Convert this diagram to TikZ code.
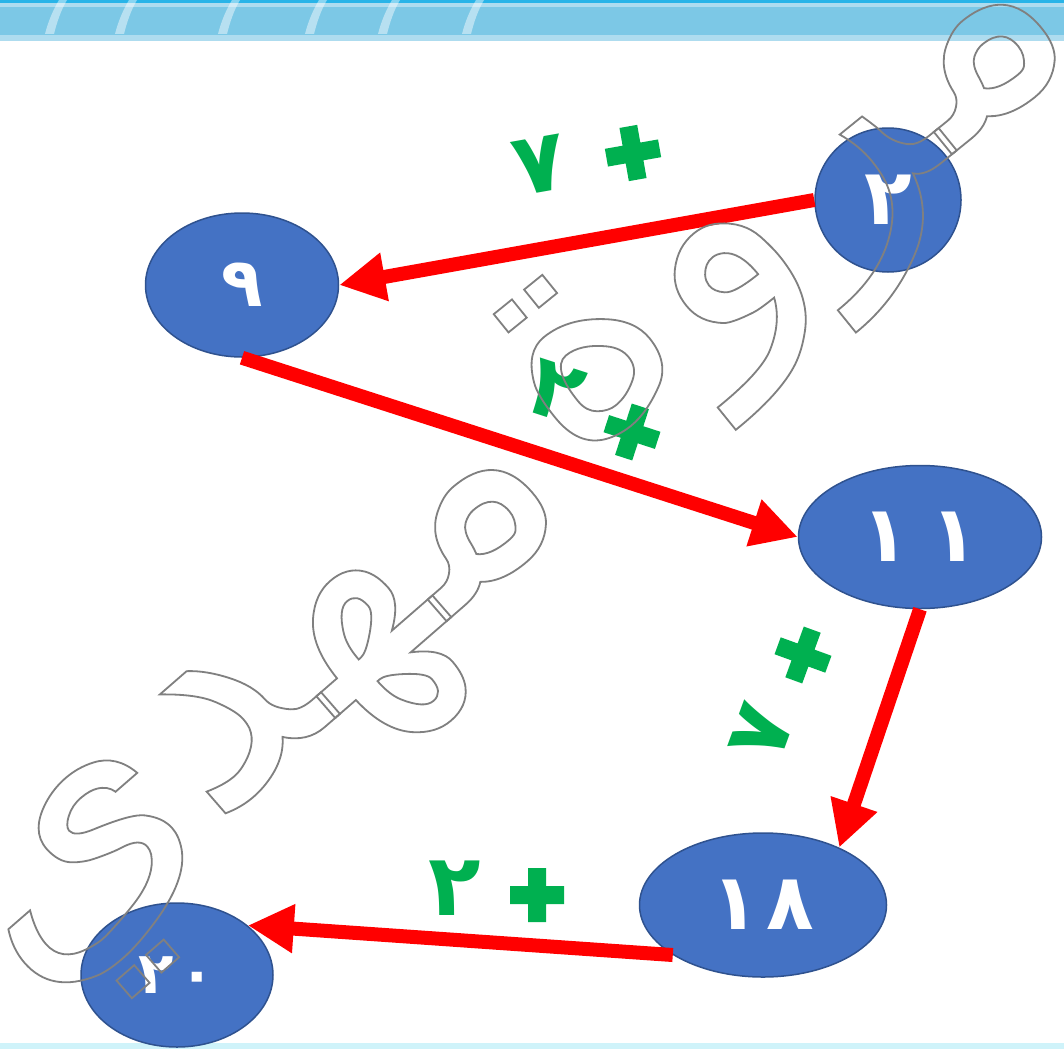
\documentclass[tikz,border=0pt]{standalone}
\usepackage{fontspec}
\usetikzlibrary{arrows.meta,shapes.geometric}
\TeXXeTstate=1
\newfontfamily\arabicfont[Script=Arabic]{DejaVu Sans}
\newfontfamily\arabicbold[Script=Arabic]{DejaVu Sans Bold}
\definecolor{nodeblue}{HTML}{4472C4}
\definecolor{nodeedge}{HTML}{2F528F}
\definecolor{arrowred}{HTML}{FF0000}
\definecolor{labelgreen}{HTML}{00B050}
\definecolor{bandblue}{HTML}{7CC8E6}
\definecolor{bandtop}{HTML}{28B4E8}
\definecolor{bandlight}{HTML}{AEDCEF}
\definecolor{bottomline}{HTML}{CFF3FA}
\definecolor{wmgray}{HTML}{808080}
\newcommand\outlinetext[1]{\special{pdf:literal direct 1 Tr 1.8 w}#1\special{pdf:literal direct 0 Tr 1 w}}
\tikzset{
  numnode/.style={ellipse, fill=nodeblue, draw=nodeedge, line width=1.5pt, inner sep=0pt,
    text=white, font=\arabicbold\fontsize{78}{78}\selectfont},
  link/.style={draw=arrowred, line width=14pt, -{Triangle[length=46pt,width=46pt]}},
  lbl/.style={text=labelgreen, inner sep=0pt, font=\arabicbold\fontsize{86}{86}\selectfont},
  wm/.style={text=wmgray, inner sep=0pt, font=\arabicfont\fontsize{320}{320}\selectfont},
  plussign/.pic={\fill[labelgreen] (-27,-9) rectangle (27,9) (-9,-27) rectangle (9,27);},
  leaf/.style={fill=white, opacity=0.45}
}
\begin{document}
\begin{tikzpicture}[x=1pt,y=-1pt]
\useasboundingbox (0,0) rectangle (1064,1049);
\fill[white] (0,0) rectangle (1064,1049);
% top band
\fill[bandblue] (0,0) rectangle (1064,40);
\fill[bandtop] (0,0) rectangle (1064,3);
\fill[bandlight] (0,3) rectangle (1064,7);
\fill[bandlight] (0,35) rectangle (1064,41);
\foreach \lx in {45,115,218,305,378,462} {
  \fill[leaf] (\lx,34) .. controls (\lx+3,22) and (\lx+8,10) .. (\lx+14,0)
     -- (\lx+22,0) .. controls (\lx+16,10) and (\lx+12,22) .. (\lx+9,34) -- cycle;
}
% bottom line
\fill[bottomline] (0,1043) rectangle (1064,1049);

% nodes
\node[numnode, minimum width=146pt, minimum height=144pt] (n2) at (888,200) {٢};
\node[numnode, minimum width=193pt, minimum height=144pt, font=\arabicbold\fontsize{68}{68}\selectfont] (n9) at (242,285) {٩};
\node[numnode, minimum width=243pt, minimum height=143pt] (n11) at (920,537) {١\hspace{22pt}١};
\node[numnode, minimum width=247pt, minimum height=144pt] (n18) at (763,905) {١\hspace{8pt}٨};
\node[numnode, minimum width=192pt, minimum height=144pt, font=\arabicbold\fontsize{58}{58}\selectfont] (n20) at (177,975) {٢\hspace{6pt}٠};

% arrows
\draw[link] (n2.west) -- (n9.east);
\draw[link] (n9.south) -- (n11.west);
\draw[link] (n11.south) -- (n18.37);
\draw[link] (n18.209) -- (n20.35);

% labels
\node[lbl, rotate=10] (l7a) at (540,165) {٧};
\pic[rotate=10] at (633,153) {plussign};
\node[lbl, rotate=-18] (l2a) at (556,392) {٢};
\pic[rotate=-18] at (632,432) {plussign};
\pic[rotate=-20] at (803,655) {plussign};
\node[lbl, rotate=70] (l7b) at (762,732) {٧};
\node[lbl] (l2b) at (455,888) {٢};
\pic at (537,895) {plussign};

% watermarks
\node[wm, rotate=39] (wm1) at (800,222) {\outlinetext{\arabicfont\beginR مروة\endR}};
\node[wm, rotate=41] (wm2) at (282,728) {\outlinetext{\arabicfont\beginR مهدي\endR}};
\end{tikzpicture}
\end{document}
